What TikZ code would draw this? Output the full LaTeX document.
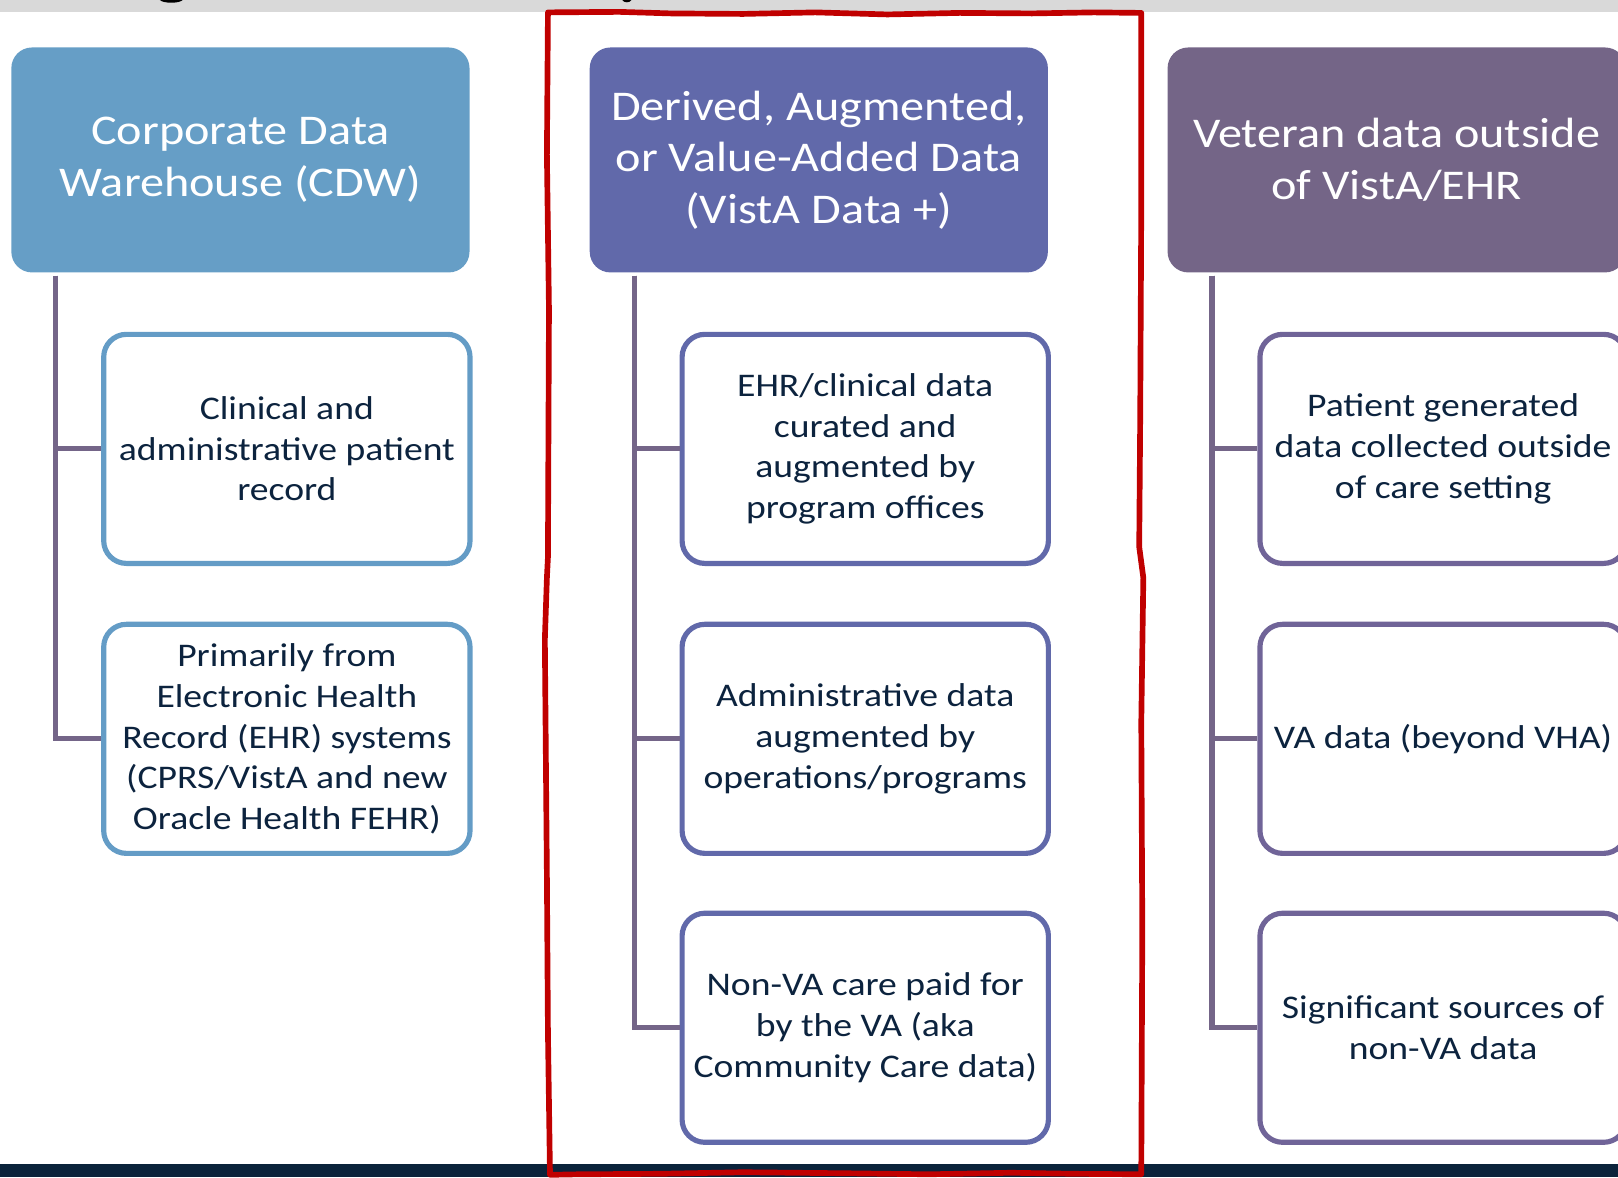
\documentclass[tikz,border=0pt]{standalone}
\usepackage{fontspec}
\setmainfont[FakeStretch=1.14]{Carlito}
\definecolor{hdrA}{RGB}{102,158,198}
\definecolor{hdrB}{RGB}{97,105,170}
\definecolor{hdrC}{RGB}{116,101,135}
\definecolor{brdA}{RGB}{100,156,198}
\definecolor{brdB}{RGB}{97,105,170}
\definecolor{brdC}{RGB}{112,100,152}
\definecolor{connc}{RGB}{116,101,136}
\definecolor{txtc}{RGB}{12,35,62}
\definecolor{navy}{RGB}{11,35,59}
\definecolor{redc}{RGB}{192,0,0}
\definecolor{grayb}{RGB}{217,217,217}
\tikzset{
  hdr/.style={rectangle, rounded corners=20pt, minimum width=444pt, minimum height=218pt,
    inner sep=0pt, align=center, text=white, font=\fontsize{41}{50}\selectfont},
  child/.style={rectangle, draw, line width=5pt, rounded corners=22pt, fill=white,
    minimum width=355pt, minimum height=222pt, inner sep=0pt, align=center,
    text=txtc, font=\fontsize{32}{39.5}\selectfont},
  conn/.style={draw=connc, line width=5pt},
}
\begin{document}
\begin{tikzpicture}[x=1pt,y=-1pt]
\useasboundingbox (0,0) rectangle (1568,1141);
\clip (0,0) rectangle (1568,1141);
% top gray strip and bottom bar
\fill[grayb] (0,0) rectangle (1568,11.6);
\fill[black] (155,0) .. controls (158,3.5) and (174,3.5) .. (177,0) -- cycle;
\fill[black] (603,0) .. controls (605,3) and (610,3) .. (612,0) -- cycle;
\fill[navy] (0,1128) rectangle (1568,1141);

% headers
\node[hdr, fill=hdrA] (h1) at (233,155) {Corporate Data\\Warehouse (CDW)};
\node[hdr, fill=hdrB] (h2) at (793.5,155) {Derived, Augmented,\\or Value-Added Data\\(VistA Data +)};
\node[hdr, fill=hdrC] (h3) at (1353.5,155) {Veteran data outside\\of VistA/EHR};

% children column 1
\node[child, draw=brdA] (a1) at (278,435) {Clinical and\\administrative patient\\record};
\node[child, draw=brdA] (a2) at (278,716) {Primarily from\\Electronic Health\\Record (EHR) systems\\(CPRS/VistA and new\\Oracle Health FEHR)};
% column 2
\node[child, draw=brdB] (b1) at (838.5,435) {EHR/clinical data\\curated and\\augmented by\\program offices};
\node[child, draw=brdB] (b2) at (838.5,716) {Administrative data\\augmented by\\operations/programs};
\node[child, draw=brdB] (b3) at (838.5,996) {Non-VA care paid for\\by the VA (aka\\Community Care data)};
% column 3
\node[child, draw=brdC] (c1) at (1398.5,435) {Patient generated\\data collected outside\\of care setting};
\node[child, draw=brdC] (c2) at (1398.5,716) {VA data (beyond VHA)};
\node[child, draw=brdC] (c3) at (1398.5,996) {Significant sources of\\non-VA data};

% connectors
\path[conn] ([xshift=-179pt,yshift=-3pt]h1.south) |- (a1.west);
\path[conn] ([xshift=-179pt,yshift=-3pt]h1.south) |- (a2.west);
\path[conn] ([xshift=-179pt,yshift=-3pt]h2.south) |- (b1.west);
\path[conn] ([xshift=-179pt,yshift=-3pt]h2.south) |- (b2.west);
\path[conn] ([xshift=-179pt,yshift=-3pt]h2.south) |- (b3.west);
\path[conn] ([xshift=-179pt,yshift=-3pt]h3.south) |- (c1.west);
\path[conn] ([xshift=-179pt,yshift=-3pt]h3.south) |- (c2.west);
\path[conn] ([xshift=-179pt,yshift=-3pt]h3.south) |- (c3.west);

% hand-drawn red frame
\draw[redc, line width=5.5pt, line join=round, line cap=round]
  (531,12) -- (600,11.5) -- (650,13) -- (720,13.5) -- (790,12) -- (860,14) -- (930,12.5) -- (1000,13) -- (1060,12) -- (1106,12.5)
  -- (1106,200) -- (1105,400) -- (1104,530) -- (1108,560) -- (1106,700) -- (1107,900) -- (1106,1138)
  -- (1040,1137.5) -- (980,1136.5) -- (900,1138) -- (820,1137) -- (720,1136) -- (640,1137.5) -- (560,1138) -- (533,1138.5)
  -- (531,1000) -- (530,850) -- (528,620) -- (530,560) -- (531,540) -- (532,300) -- (530,150) -- cycle;
\end{tikzpicture}
\end{document}
